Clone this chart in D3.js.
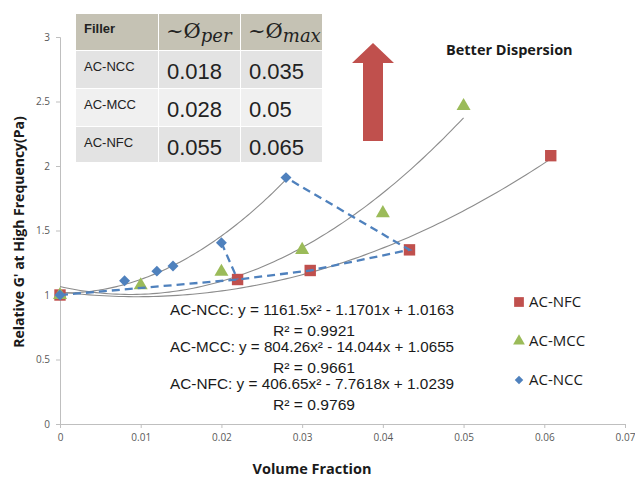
<!DOCTYPE html>
<html><head><meta charset="utf-8">
<script src="https://cdn.jsdelivr.net/npm/d3@7"></script>
<style>body{margin:0;background:#fff}svg{display:block}</style>
</head><body><svg id="c" width="635" height="477"></svg>
<script>
// ---- data ----
const xTicks = [0,0.01,0.02,0.03,0.04,0.05,0.06,0.07];
const yTicks = [0,0.5,1,1.5,2,2.5,3];
const nccX = [0,0.008,0.012,0.014,0.020,0.028];
const nccY = [1.0,1.11,1.185,1.225,1.405,1.91];
const mccX = [0,0.010,0.020,0.030,0.040,0.050];
const mccY = [1.0,1.075,1.18,1.35,1.635,2.465];
const nfcX = [0,0.022,0.031,0.0433,0.0608];
const nfcY = [1.0,1.12,1.19,1.35,2.08];
const fitA = [1161.5,804.26,406.65];
const fitB = [-1.1701,-14.044,-7.7618];
const fitC = [1.0163,1.0655,1.0239];
const fitMax = [0.028,0.050,0.0608];
const fitR2 = ["0.9921","0.9661","0.9769"];
const eqTexts = ["AC-NCC: y = 1161.5x² - 1.1701x + 1.0163","AC-MCC: y = 804.26x² - 14.044x + 1.0655","AC-NFC: y = 406.65x² - 7.7618x + 1.0239"];
// dashed connectors (x,y pairs taken from the data above)
const dashA = [[nfcX[0],nfcY[0]],[nfcX[1],nfcY[1]],[nfcX[2],nfcY[2]],[nfcX[3],nfcY[3]],[nccX[5],nccY[5]]];
const dashB = [[nccX[4],nccY[4]],[nfcX[1],nfcY[1]]];
const tableHead = ["Filler","per","max"];
const tableRows = ["AC-NCC","AC-MCC","AC-NFC"];
const phiPer = ["0.018","0.028","0.055"];
const phiMax = ["0.035","0.05","0.065"];
const legendNames = ["AC-NFC","AC-MCC","AC-NCC"];

const red="#c0504d", green="#9bbb59", blue="#4f81bd";
const svg = d3.select("#c");
const x = d3.scaleLinear().domain([0,0.07]).range([60,625]);
const y = d3.scaleLinear().domain([0,3]).range([424,37]);

// axes
const gx = svg.append("g").attr("transform","translate(0,424)")
  .call(d3.axisBottom(x).tickValues(xTicks).tickSize(4).tickPadding(6).tickFormat(d=>d===0?"0":d3.format(".2f")(d)));
const gy = svg.append("g").attr("transform","translate(60,0)")
  .call(d3.axisLeft(y).tickValues(yTicks).tickSize(4).tickPadding(6).tickFormat(d=>String(d)));
[gx,gy].forEach(g=>{
  g.select(".domain").attr("stroke","#bfbfbf");
  g.selectAll(".tick line").attr("stroke","#bfbfbf");
  g.selectAll("text").attr("fill","#595959").style("font-family","'Open Sans',sans-serif").style("font-size","10px");
});

// fit curves
const line = d3.line().x(d=>x(d[0])).y(d=>y(d[1])).curve(d3.curveLinear);
fitA.forEach((a,i)=>{
  const pts = d3.range(0,101).map(k=>{const xx=fitMax[i]*k/100; return [xx,a*xx*xx+fitB[i]*xx+fitC[i]];});
  svg.append("path").attr("d",line(pts)).attr("fill","none").attr("stroke","#8c8c8c").attr("stroke-width",1.1);
});

// markers
const sym = (type,size)=>d3.symbol().type(type).size(size)();
svg.append("g").selectAll("path").data(nfcX.map((v,i)=>[v,nfcY[i]])).join("path")
  .attr("d",sym(d3.symbolSquare,130)).attr("fill",red).attr("transform",d=>`translate(${x(d[0])},${y(d[1])})`);
svg.append("g").selectAll("path").data(mccX.map((v,i)=>[v,mccY[i]])).join("path")
  .attr("d",sym(d3.symbolTriangle,85)).attr("fill",green).attr("transform",d=>`translate(${x(d[0])},${y(d[1])})`);
svg.append("g").selectAll("path").data(nccX.map((v,i)=>[v,nccY[i]])).join("path")
  .attr("d",sym(d3.symbolSquare,60)).attr("fill",blue).attr("transform",d=>`translate(${x(d[0])},${y(d[1])}) rotate(45)`);

// dashed connectors
[dashA,dashB].forEach(p=>svg.append("path").attr("d",line(p)).attr("fill","none")
  .attr("stroke",blue).attr("stroke-width",2.3).attr("stroke-dasharray","8,5"));

// equations
const eqG = svg.append("g").attr("font-family","'Liberation Sans',Arial,sans-serif").attr("font-size","14px").attr("fill","#1a1a1a").attr("text-anchor","middle");
eqTexts.forEach((t,i)=>{
  eqG.append("text").attr("x",312).attr("y",315+i*37).attr("textLength",284).attr("lengthAdjust","spacingAndGlyphs").text(t);
  eqG.append("text").attr("x",314).attr("y",336+i*37).attr("textLength",82).attr("lengthAdjust","spacingAndGlyphs").text("R² = "+fitR2[i]);
});

// legend
const lg = svg.append("g");
const lgSym=[[d3.symbolSquare,95,red,0],[d3.symbolTriangle,60,green,0],[d3.symbolSquare,36,blue,45]];
legendNames.forEach((n,i)=>{
  const yy=302+i*39;
  lg.append("path").attr("d",sym(lgSym[i][0],lgSym[i][1])).attr("fill",lgSym[i][2]).attr("transform",`translate(519,${yy}) rotate(${lgSym[i][3]})`);
  lg.append("text").attr("x",529).attr("y",yy+5).attr("font-family","'Open Sans',sans-serif").attr("font-size","15px").attr("fill","#1a1a1a").text(n);
});

// axis titles
svg.append("text").attr("x",312).attr("y",474).attr("text-anchor","middle").attr("font-family","'Open Sans',sans-serif")
  .attr("font-weight","bold").attr("font-size","14.5px").attr("fill","#1a1a1a").text("Volume Fraction");
svg.append("text").attr("transform","translate(24,232) rotate(-90)").attr("text-anchor","middle").attr("font-family","'Open Sans',sans-serif")
  .attr("font-weight","bold").attr("font-size","14px").attr("fill","#1a1a1a").text("Relative G' at High Frequency(Pa)");

// arrow
svg.append("path").attr("d","M373,43 L394,63 L383,63 L383,141 L363,141 L363,63 L352,63 Z").attr("fill",red);
svg.append("text").attr("x",446).attr("y",55).attr("font-family","'Open Sans',sans-serif").attr("font-weight","bold")
  .attr("font-size","14.5px").attr("fill","#1a1a1a").text("Better Dispersion");

// table
const colX=[76,158,240,322], rowY=[14,50,88,126,162];
const tg = svg.append("g");
const rowFill=["#c5c2b4","#e3e3e3","#f0f0f0","#e3e3e3"];
for(let r=0;r<4;r++) for(let c=0;c<3;c++)
  tg.append("rect").attr("x",colX[c]+(c?1:0)).attr("y",rowY[r]+(r?1:0)).attr("width",colX[c+1]-colX[c]-(c?1:0)).attr("height",rowY[r+1]-rowY[r]-(r?1:0)).attr("fill",rowFill[r]);
tg.append("text").attr("x",84).attr("y",33).attr("font-family","'Liberation Sans',Arial,sans-serif").attr("font-weight","bold").attr("font-size","13px").attr("fill","#222").text(tableHead[0]);
[1,2].forEach(c=>{
  const t=tg.append("text").attr("x",colX[c]+8).attr("y",38).attr("font-family","'DejaVu Serif',serif").attr("fill","#222");
  t.append("tspan").attr("font-size","21px").text("~Ø");
  t.append("tspan").attr("font-size","18px").attr("font-style","italic").attr("dy",4).text(tableHead[c]);
});
tableRows.forEach((n,r)=>{
  const yy=rowY[r+1];
  tg.append("text").attr("x",84).attr("y",yy+21).attr("font-family","'Liberation Sans',Arial,sans-serif").attr("font-size","13px").attr("fill","#222").text(n);
  tg.append("text").attr("x",167).attr("y",yy+29).attr("font-family","'Liberation Sans',Arial,sans-serif").attr("font-size","22px").attr("fill","#222").text(phiPer[r]);
  tg.append("text").attr("x",249).attr("y",yy+29).attr("font-family","'Liberation Sans',Arial,sans-serif").attr("font-size","22px").attr("fill","#222").text(phiMax[r]);
});
</script></body></html>
